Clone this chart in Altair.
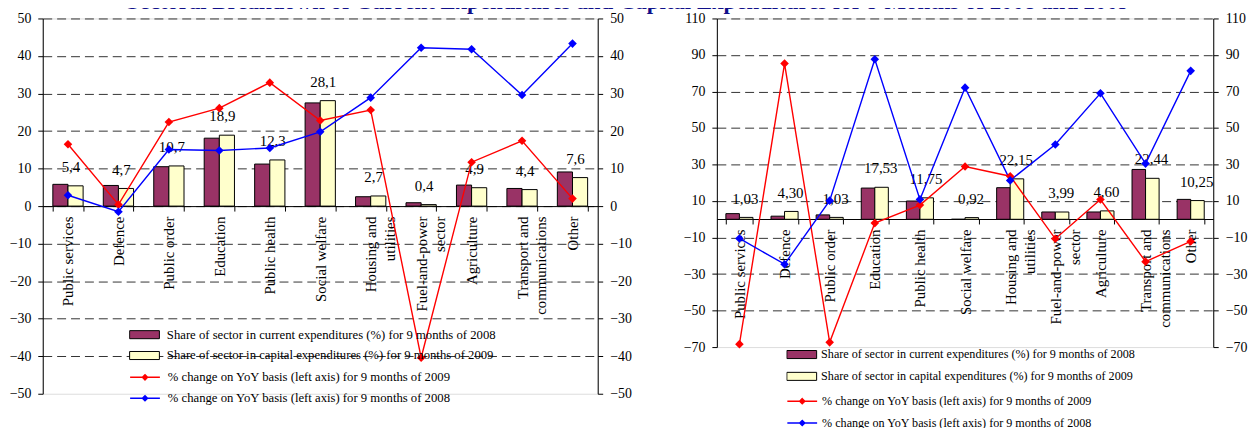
import altair as alt
import pandas as pd

categories = ["Public services", "Defence", "Public order", "Education", "Public health",
              "Social welfare", "Housing and\nutilities", "Fuel-and-power\nsector",
              "Agriculture", "Transport and\ncommunications", "Other"]

S_CUR = "Share of sector in current expenditures (%) for 9 months of 2008"
S_CAP = "Share of sector in capital expenditures (%) for 9 months of 2009"
S_09 = "% change on YoY basis (left axis) for 9 months of 2009"
S_08 = "% change on YoY basis (left axis) for 9 months of 2008"

# Left panel (current expenditures)
cur08_left = [5.8, 5.5, 10.5, 18.1, 11.2, 27.5, 2.5, 0.9, 5.6, 4.7, 9.1]
cap09_left = [5.4, 4.7, 10.7, 18.9, 12.3, 28.1, 2.7, 0.4, 4.9, 4.4, 7.6]
yoy09_left = [16.5, 0.4, 22.4, 26.1, 32.9, 22.8, 25.6, -40.4, 11.7, 17.4, 2.0]
yoy08_left = [2.9, -1.5, 15.1, 14.8, 15.5, 19.8, 28.9, 42.2, 41.8, 29.6, 43.3]
ticks_left = [-50, -40, -30, -20, -10, 0, 10, 20, 30, 40, 50]

# Right panel (capital expenditures)
cur08_right = [3.1, 1.7, 2.4, 17.1, 10.0, 0.0, 17.3, 4.0, 4.0, 27.3, 10.9]
cap09_right = [1.03, 4.30, 1.03, 17.53, 11.75, 0.92, 22.15, 3.99, 4.60, 22.44, 10.25]
yoy09_right = [-68.4, 85.3, -67.4, -2.1, 7.8, 28.9, 23.6, -10.7, 10.8, -23.2, -12.1]
yoy08_right = [-10.5, -24.6, 10.2, 87.7, 10.9, 72.1, 21.3, 41.0, 69.0, 30.5, 81.3]
ticks_right = [-70, -50, -30, -10, 10, 30, 50, 70, 90, 110]

TITLE = "Sectoral Breakdown of Current Expenditures and Capital Expenditures for 9 Months of 2008 and 2009"
FONT = "Liberation Serif"

BAR_PATH = "M-1,-0.27H1V0.27H-1Z"
LINE_PATH = "M-1,0H1M0,-0.17L0.17,0L0,0.17L-0.17,0Z"


def panel(cur, cap, y09, y08, ticks, w, h, x_offset, decimals, label_dx, leg):
    bars = pd.DataFrame({
        "category": categories * 2,
        "series": [S_CUR] * 11 + [S_CAP] * 11,
        "value": cur + cap,
    })
    labels = pd.DataFrame({"category": categories, "value": cap})
    lines = pd.DataFrame({
        "category": categories * 2,
        "series": [S_09] * 11 + [S_08] * 11,
        "value": y09 + y08,
    })
    dom = [ticks[0], ticks[-1]]
    x = alt.X("category:N", sort=categories,
              scale=alt.Scale(paddingInner=0.4, paddingOuter=0.2),
              axis=alt.Axis(title=None, labelAngle=270, labelExpr="split(datum.label, '\\n')",
                            labelLineHeight=19, labelFontSize=15, labelFont=FONT,
                            labelColor="black", tickBand="extent", tickSize=5,
                            offset=x_offset, domainColor="black", tickColor="black",
                            labelPadding=5, labelOverlap=False, grid=False))
    yscale = alt.Scale(domain=dom, nice=False, zero=False)
    left_axis = alt.Axis(values=ticks, orient="left", title=None, grid=True,
                         gridDash=[9, 5], gridColor="#333333",
                         gridOpacity={"condition": {"test": f"datum.value == {ticks[0]}", "value": 0}, "value": 1},
                         tickSize=5, labelPadding=7, domainColor="black", tickColor="black",
                         labelFont=FONT, labelFontSize=14, labelColor="black")
    right_axis = alt.Axis(values=ticks, orient="right", title=None, grid=False,
                          tickSize=5, labelPadding=7, domainColor="black", tickColor="black",
                          labelFont=FONT, labelFontSize=14, labelColor="black")
    bar_legend = alt.Legend(orient="none", legendX=leg[0], legendY=leg[1], title=None,
                            symbolType=BAR_PATH, symbolSize=900, symbolStrokeColor="black",
                            symbolStrokeWidth=1, labelFont=FONT, labelFontSize=leg[5],
                            labelColor="black", labelOffset=leg[4], rowPadding=leg[3],
                            clipHeight=15, padding=0, labelLimit=600, symbolOpacity=1)
    line_legend = alt.Legend(orient="none", legendX=leg[0], legendY=leg[2], title=None,
                             symbolType=LINE_PATH, symbolSize=900, symbolStrokeWidth=1.5,
                             labelFont=FONT, labelFontSize=leg[5], labelColor="black",
                             labelOffset=leg[4], rowPadding=leg[3], clipHeight=15,
                             padding=0, labelLimit=600, symbolOpacity=1)
    fill = alt.Fill("series:N", scale=alt.Scale(domain=[S_CUR, S_CAP], range=["#993366", "#FFFFCC"]),
                    legend=bar_legend)
    color = alt.Color("series:N", scale=alt.Scale(domain=[S_09, S_08], range=["#FF0000", "#0000FF"]),
                      legend=line_legend)

    bar_layer = alt.Chart(bars).mark_bar(stroke="black", strokeWidth=1).encode(
        x=x,
        xOffset=alt.XOffset("series:N", sort=[S_CUR, S_CAP], scale=alt.Scale(paddingInner=0, paddingOuter=0)),
        y=alt.Y("value:Q", scale=yscale, axis=left_axis),
        fill=fill,
    )
    text_layer = alt.Chart(labels).transform_calculate(
        txt=f"replace(format(datum.value, '.{decimals}f'), '.', ',')"
    ).mark_text(font=FONT, fontSize=15, dy=-19, dx=label_dx, color="black", baseline="middle").encode(
        x=x, y=alt.Y("value:Q", scale=yscale, axis=left_axis), text="txt:N"
    )
    base_line = alt.Chart(lines).encode(
        x=x, y=alt.Y("value:Q", scale=yscale, axis=right_axis), color=color
    )
    line_layer = alt.layer(
        base_line.mark_line(strokeWidth=1.4),
        base_line.mark_point(shape="diamond", filled=True, size=75, opacity=1),
    )
    left_layers = alt.layer(bar_layer, text_layer)
    return alt.layer(left_layers, line_layer).resolve_scale(y="independent").properties(width=w, height=h)


left = panel(cur08_left, cap09_left, yoy09_left, yoy08_left, ticks_left, 559, 378, -189,
             1, 3, (87, 311, 354, 6, 7, 12.8))
right = panel(cur08_right, cap09_right, yoy09_right, yoy08_right, ticks_right, 500, 331, -129,
              2, 6, (70, 331, 378, 7, 4, 12.2))

chart = alt.hconcat(left, right, spacing=50).resolve_scale(
    x="independent", y="independent", fill="independent", color="independent", xOffset="independent"
).properties(
    title=alt.Title(TITLE, font=FONT, fontSize=23, fontWeight="bold", color="#10108a",
                    anchor="middle", offset=-3),
    padding={"top": -19, "left": 0, "right": 0, "bottom": 0},
).configure_view(stroke=None).configure(font=FONT)

chart.save("out.html", embed_options={"renderer": "svg", "actions": False})
